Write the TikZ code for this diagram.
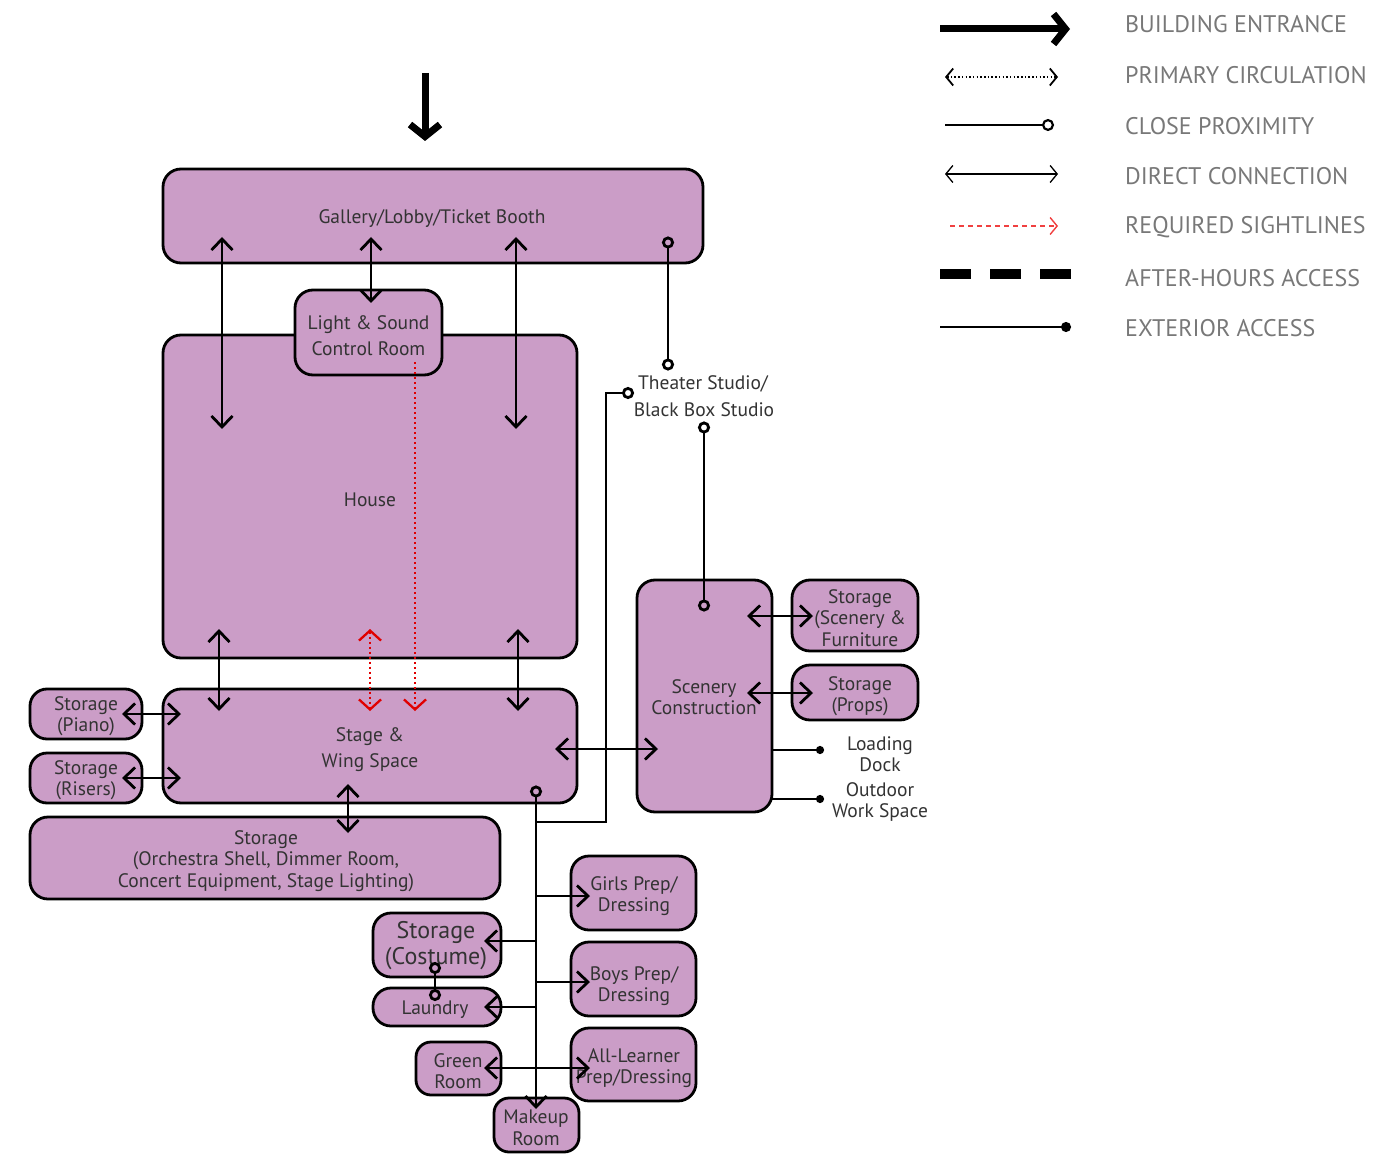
\documentclass[tikz,border=0pt]{standalone}
\usepackage{fontspec}
\setmainfont{PT Sans}
\usetikzlibrary{arrows.meta}
\definecolor{roomfill}{HTML}{CB9DC7}
\definecolor{txt}{HTML}{333333}
\definecolor{legtxt}{HTML}{787878}
\definecolor{sight}{HTML}{E00000}
\definecolor{sightleg}{HTML}{F04040}
\tikzset{
  barb/.tip={Straight Barb[length=11pt,width=21pt]},
  ring/.tip={Circle[open,length=12pt,width=12pt]},
  dot/.tip={Circle[length=8pt,width=8pt]},
}
\begin{document}
\begin{tikzpicture}[x=1pt,y=-1pt,
  room/.style={draw=black, line width=2.8pt, fill=roomfill, rounded corners=18pt, inner sep=0pt},
  plain/.style={text=txt, align=center, inner sep=0pt, font=\fontsize{19.5}{21.5}\selectfont},
  conn/.style={line width=2.8pt, draw=black},
  sightl/.style={line width=2.3pt, draw=sight, dash pattern=on 2pt off 3pt},
  legtext/.style={text=legtxt, anchor=west, inner sep=0pt, font=\fontsize{24}{24}\selectfont},
]
\useasboundingbox (0,0) rectangle (1399,1155);

% ---- rooms ----
\node[room, minimum width=540pt, minimum height=94pt] (gallery) at (433,216) {};
\node[room, minimum width=414pt, minimum height=323pt] (house) at (370,496.5) {};
\node[room, minimum width=147pt, minimum height=85pt] (control) at (368.5,332.5) {};
\node[room, minimum width=414pt, minimum height=114pt] (stage) at (370,746) {};
\node[room, minimum width=112pt, minimum height=50pt, rounded corners=17pt] (piano) at (86,714) {};
\node[room, minimum width=112pt, minimum height=50pt, rounded corners=17pt] (risers) at (86,778) {};
\node[room, minimum width=470pt, minimum height=82pt] (orch) at (265,858) {};
\node[room, minimum width=135pt, minimum height=232pt] (scenery) at (704.5,696) {};
\node[room, minimum width=126pt, minimum height=71pt] (storscen) at (855,615.5) {};
\node[room, minimum width=126pt, minimum height=55pt] (props) at (855,692.5) {};
\node[room, minimum width=125pt, minimum height=74pt] (girls) at (633.5,893) {};
\node[room, minimum width=125pt, minimum height=74pt] (boys) at (633.5,979) {};
\node[room, minimum width=125pt, minimum height=73pt] (alllearner) at (633.5,1064.5) {};
\node[room, minimum width=128pt, minimum height=64pt] (costume) at (437,945) {};
\node[room, minimum width=128pt, minimum height=38pt] (laundry) at (437,1007) {};
\node[room, minimum width=85pt, minimum height=53pt, rounded corners=15pt] (green) at (458.5,1068.5) {};
\node[room, minimum width=85pt, minimum height=54pt, rounded corners=15pt] (makeup) at (536.5,1125) {};

% ---- room texts ----
\node[plain] (gallery-t) at (432,219) {Gallery/Lobby/Ticket Booth};
\node[plain] (house-t) at (370,500) {House};
\node[plain, font=\fontsize{19.5}{26}\selectfont] (control-t) at (368.5,335.5) {Light \& Sound\\Control Room};
\node[plain, font=\fontsize{19.5}{26}\selectfont] (stage-t) at (370,750) {Stage \&\\Wing Space};
\node[plain] (piano-t) at (86,716) {Storage\\(Piano)};
\node[plain] (risers-t) at (86,780) {Storage\\(Risers)};
\node[plain] (orch-t) at (266,861) {Storage\\(Orchestra Shell, Dimmer Room,\\Concert Equipment, Stage Lighting)};
\node[plain] (scenery-t) at (704,697) {Scenery\\Construction};
\node[plain] (storscen-t) at (860,618) {Storage\\(Scenery \&\\Furniture};
\node[plain] (props-t) at (860,696) {Storage\\(Props)};
\node[plain] (girls-t) at (634,896) {Girls Prep/\\Dressing};
\node[plain] (boys-t) at (634,986) {Boys Prep/\\Dressing};
\node[plain] (alllearner-t) at (634,1068) {All-Learner\\Prep/Dressing};
\node[plain, font=\fontsize{24}{26}\selectfont] (costume-t) at (436,946) {Storage\\(Costume)};
\node[plain] (laundry-t) at (435,1010) {Laundry};
\node[plain] (green-t) at (458,1071) {Green\\Room};
\node[plain] (makeup-t) at (536,1128) {Makeup\\Room};

\node[plain, font=\fontsize{19.5}{27}\selectfont] (studio) at (704,396) {\hspace*{-2pt}Theater Studio/\\Black Box Studio};
\node[plain] (dock) at (880,754) {Loading\\Dock};
\node[plain] (outdoor) at (880,802) {Outdoor\\Work Space};

% ---- entrance ----
\coordinate (entA) at (425,73);
\coordinate (entB) at (425,141);
\draw[line width=7pt, -{Straight Barb[length=12pt,width=30pt]}] (entA) -- (entB);

% ---- gallery connections ----
\coordinate (gL) at (222,237); \coordinate (hL) at (222,429);
\coordinate (gM) at (371,237); \coordinate (cM) at (371,303);
\coordinate (gR) at (516,237); \coordinate (hR) at (516,429);
\draw[conn, barb-barb] (gL) -- (hL);
\draw[conn, barb-barb] (gM) -- (cM);
\draw[conn, barb-barb] (gR) -- (hR);

\coordinate (gP) at (668,236.5); \coordinate (sP) at (668,370.5);
\draw[conn, ring-ring] (gP) -- (sP);

% ---- studio connections ----
\coordinate (sP2) at (704,421.5); \coordinate (scP) at (704,611.5);
\draw[conn, ring-ring] (sP2) -- (scP);
\coordinate (stP) at (536,785.5);
\coordinate (mkP) at (536,1109);
\coordinate (sLeft) at (634,393);
\coordinate (j0) at (536,822);
\draw[conn, -ring] (j0) -| (606,393) -- (sLeft);
\draw[conn, ring-barb] (stP) -- (mkP);

% ---- house / stage ----
\coordinate (hs1a) at (219,629); \coordinate (hs1b) at (219,711);
\coordinate (hs2a) at (518,629); \coordinate (hs2b) at (518,711);
\draw[conn, barb-barb] (hs1a) -- (hs1b);
\draw[conn, barb-barb] (hs2a) -- (hs2b);
\coordinate (rs1a) at (370,629); \coordinate (rs1b) at (370,711);
\draw[sightl, {Straight Barb[length=10pt,width=22pt,line width=2.3pt]}-{Straight Barb[length=10pt,width=22pt,line width=2.3pt]}] (rs1a) -- (rs1b);
\coordinate (rs2a) at (415,362); \coordinate (rs2b) at (415,711);
\draw[sightl, -{Straight Barb[length=10pt,width=22pt,line width=2.3pt]}] (rs2a) -- (rs2b);

% ---- side storages ----
\coordinate (pA) at (122,714); \coordinate (pB) at (181,714);
\coordinate (rA) at (122,778); \coordinate (rB) at (181,778);
\draw[conn, barb-barb] (pA) -- (pB);
\draw[conn, barb-barb] (rA) -- (rB);
\coordinate (oA) at (348,784); \coordinate (oB) at (348,833);
\draw[conn, barb-barb] (oA) -- (oB);

% ---- stage / scenery ----
\coordinate (ssA) at (555,749); \coordinate (ssB) at (658,749);
\draw[conn, barb-barb] (ssA) -- (ssB);
\coordinate (sfA) at (747,616); \coordinate (sfB) at (813,616);
\draw[conn, barb-barb] (sfA) -- (sfB);
\coordinate (spA) at (747,693); \coordinate (spB) at (813,693);
\draw[conn, barb-barb] (spA) -- (spB);
\coordinate (ldA) at (772,750); \coordinate (ldB) at (824,750);
\draw[conn, -dot] (ldA) -- (ldB);
\coordinate (owA) at (772,799); \coordinate (owB) at (824,799);
\draw[conn, -dot] (owA) -- (owB);

% ---- dressing branches ----
\coordinate (bg0) at (536,896); \coordinate (bg1) at (590,896);
\draw[conn, -barb] (bg0) -- (bg1);
\coordinate (bc0) at (536,941); \coordinate (bc1) at (484,941);
\draw[conn, -barb] (bc0) -- (bc1);
\coordinate (bb0) at (536,982); \coordinate (bb1) at (590,982);
\draw[conn, -barb] (bb0) -- (bb1);
\coordinate (bl0) at (536,1007); \coordinate (bl1) at (484,1007);
\draw[conn, -barb] (bl0) -- (bl1);
\coordinate (ga0) at (484,1068); \coordinate (ga1) at (590,1068);
\draw[conn, barb-barb] (ga0) -- (ga1);
\coordinate (cl0) at (435,962); \coordinate (cl1) at (435,1001);
\draw[conn, ring-ring] (cl0) -- (cl1);

% ---- legend ----
\coordinate (l1a) at (940,29); \coordinate (l1b) at (1070,29);
\draw[line width=7pt, -{Straight Barb[length=12pt,width=30pt]}] (l1a) -- (l1b);
\node[legtext] (t1) at (1125,24) {BUILDING ENTRANCE};
\coordinate (l2a) at (945,77); \coordinate (l2b) at (1058,77);
\draw[line width=1.8pt, dash pattern=on 1.5pt off 2.2pt, {Straight Barb[length=7pt,width=17pt,line width=1.8pt]}-{Straight Barb[length=7pt,width=17pt,line width=1.8pt]}] (l2a) -- (l2b);
\node[legtext] (t2) at (1125,75) {PRIMARY CIRCULATION};
\coordinate (l3a) at (945,125); \coordinate (l3b) at (1054,125);
\draw[line width=2.2pt, -{Circle[open,length=12pt,width=12pt]}] (l3a) -- (l3b);
\node[legtext] (t3) at (1125,126) {CLOSE PROXIMITY};
\coordinate (l4a) at (945,174); \coordinate (l4b) at (1058,174);
\draw[line width=1.3pt, {Straight Barb[length=7pt,width=17pt]}-{Straight Barb[length=7pt,width=17pt]}] (l4a) -- (l4b);
\node[legtext] (t4) at (1125,176) {DIRECT CONNECTION};
\coordinate (l5a) at (950,226); \coordinate (l5b) at (1058,226);
\draw[line width=1.4pt, draw=sightleg, dash pattern=on 5pt off 4pt, -{Straight Barb[length=7pt,width=17pt]}] (l5a) -- (l5b);
\node[legtext] (t5) at (1125,227) {REQUIRED SIGHTLINES};
\coordinate (l6a) at (940,274); \coordinate (l6b) at (1071,274);
\draw[line width=10pt, dash pattern=on 31pt off 19pt] (l6a) -- (l6b);
\node[legtext] (t6) at (1125,278) {AFTER-HOURS ACCESS};
\coordinate (l7a) at (940,327); \coordinate (l7b) at (1071,327);
\draw[line width=2.2pt, -{Circle[length=10pt,width=10pt]}] (l7a) -- (l7b);
\node[legtext] (t7) at (1125,328) {EXTERIOR ACCESS};
\end{tikzpicture}
\end{document}
